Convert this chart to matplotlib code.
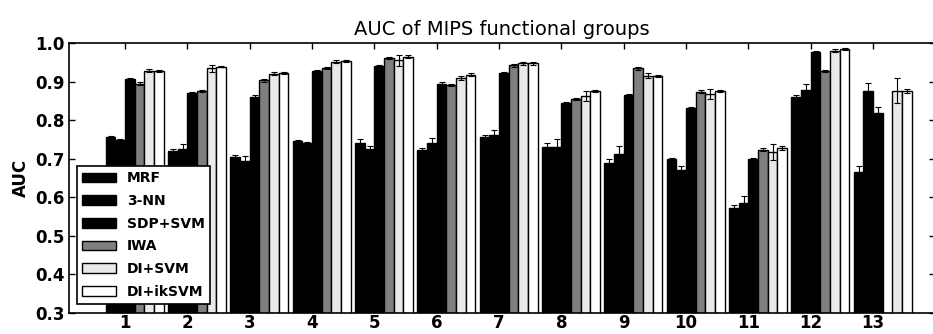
import numpy as np
import matplotlib
matplotlib.use("Agg")
import matplotlib.pyplot as plt

groups = [str(i) for i in range(1, 14)]
methods = ["MRF", "3-NN", "SDP+SVM", "IWA", "DI+SVM", "DI+ikSVM"]

nan = np.nan
mrf = [0.756, 0.721, 0.704, 0.746, 0.742, 0.722, 0.757, 0.731, 0.688, 0.698, 0.573, 0.860, 0.665]
knn = [0.749, 0.724, 0.693, 0.740, 0.726, 0.740, 0.761, 0.730, 0.712, 0.670, 0.584, 0.877, 0.876]
sdp_svm = [0.906, 0.870, 0.861, 0.927, 0.940, 0.895, 0.923, 0.845, 0.866, 0.831, 0.698, 0.976, 0.819]
iwa = [0.895, 0.876, 0.903, 0.935, 0.961, 0.892, 0.942, 0.855, 0.934, 0.874, 0.723, 0.928, nan]
di_svm = [0.928, 0.934, 0.920, 0.952, 0.955, 0.909, 0.947, 0.863, 0.915, 0.867, 0.717, 0.980, 0.876]
di_iksvm = [0.928, 0.939, 0.922, 0.954, 0.965, 0.918, 0.947, 0.876, 0.915, 0.875, 0.727, 0.984, 0.876]

mrf_err = [0.004, 0.004, 0.006, 0.003, 0.008, 0.006, 0.005, 0.010, 0.010, 0.004, 0.007, 0.006, 0.015]
knn_err = [0.003, 0.015, 0.015, 0.003, 0.006, 0.015, 0.013, 0.020, 0.020, 0.010, 0.019, 0.016, 0.020]
sdp_svm_err = [0.003, 0.003, 0.003, 0.003, 0.003, 0.003, 0.003, 0.003, 0.003, 0.003, 0.004, 0.003, 0.016]
iwa_err = [0.003, 0.003, 0.003, 0.003, 0.003, 0.003, 0.003, 0.003, 0.003, 0.003, 0.004, 0.003, nan]
di_svm_err = [0.004, 0.009, 0.004, 0.003, 0.015, 0.006, 0.004, 0.013, 0.007, 0.013, 0.020, 0.004, 0.032]
di_iksvm_err = [0.002, 0.002, 0.002, 0.002, 0.003, 0.003, 0.003, 0.003, 0.003, 0.003, 0.005, 0.003, 0.006]

series = [mrf, knn, sdp_svm, iwa, di_svm, di_iksvm]
errors = [mrf_err, knn_err, sdp_svm_err, iwa_err, di_svm_err, di_iksvm_err]
colors = ["#000000", "#000000", "#000000", "#7f7f7f", "#e9e9e9", "#ffffff"]

fig = plt.figure(figsize=(9.33, 3.34), dpi=100)
ax = fig.add_axes([69 / 933, 21 / 334, 866.4 / 933, 270 / 334])

x = np.arange(1, len(groups) + 1)
width = 0.155
for i, (vals, errs, col, name) in enumerate(zip(series, errors, colors, methods)):
    ax.bar(x + (i - 2) * width, vals, width, align="edge", color=col,
           edgecolor="black", linewidth=1.0, label=name,
           yerr=errs, ecolor="black",
           error_kw=dict(elinewidth=0.8, capsize=2.5, capthick=0.8))

ax.set_xlim(0.1, 14.0)
ax.set_ylim(0.3, 1.0)
ax.set_xticks(x)
ax.set_xticklabels(groups)
ax.set_yticks(np.arange(0.3, 1.01, 0.1))
ax.set_yticklabels([f"{v:.1f}" for v in np.arange(0.3, 1.01, 0.1)])
ax.tick_params(direction="in", top=True, right=True, length=4, width=1,
               labelsize=12)
ax.tick_params(axis="y", pad=3)
ax.tick_params(axis="x", pad=0.5)
for lab in ax.get_xticklabels() + ax.get_yticklabels():
    lab.set_fontweight("bold")
for sp in ax.spines.values():
    sp.set_linewidth(1.2)

ax.set_ylabel("AUC", fontsize=12, fontweight="bold")
ax.set_title("AUC of MIPS functional groups", fontsize=14, pad=6)

leg = ax.legend(loc="lower left", bbox_to_anchor=(0.009, 0.033),
                borderaxespad=0, fancybox=False, framealpha=1,
                edgecolor="black", handlelength=2.4, handleheight=0.7,
                labelspacing=0.62, handletextpad=0.8, borderpad=0.4,
                prop=dict(size=10, weight="bold"))
leg.get_frame().set_linewidth(1.2)

fig.savefig("out.png", dpi=100)
